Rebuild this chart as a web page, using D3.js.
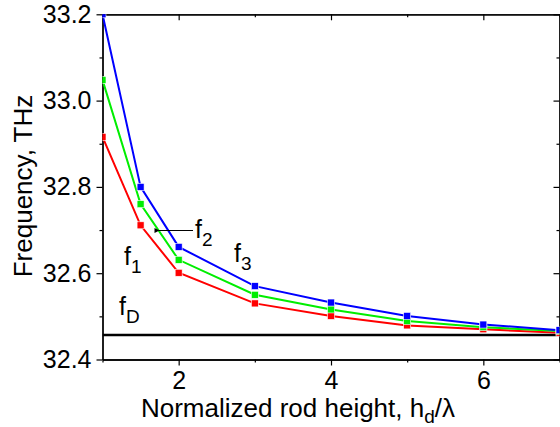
<!DOCTYPE html>
<html>
<head>
<meta charset="utf-8">
<script src="https://cdn.jsdelivr.net/npm/d3@7"></script>
<style>
  body { margin: 0; background: #fff; }
  svg { display: block; font-family: "Liberation Sans", Arial, sans-serif; }
</style>
</head>
<body>
<svg width="560" height="427"></svg>
<script>
// hauteur normalisee h_d / lambda
const hauteurs = [1, 1.5, 2, 3, 4, 5, 6, 7];
const f1 = [32.916, 32.711, 32.601, 32.530, 32.501, 32.479, 32.470, 32.462];
const f2 = [33.048, 32.760, 32.631, 32.550, 32.516, 32.489, 32.475, 32.466];
const f3 = [33.200, 32.800, 32.661, 32.570, 32.532, 32.501, 32.481, 32.468];
const fD = 32.457;

const ticksX = [2, 4, 6];
const ticksXmin = [1, 3, 5, 7];
const ticksY = [32.4, 32.6, 32.8, 33.0, 33.2];
const ticksYmin = [32.5, 32.7, 32.9, 33.1];

const series = [
  { nom: "f1", valeurs: f1, couleur: "#ff0000" },
  { nom: "f2", valeurs: f2, couleur: "#00ee00" },
  { nom: "f3", valeurs: f3, couleur: "#0000ff" }
];

const gauche = 102.5, droite = 559.5, haut = 14.3, bas = 359.5;

const x = d3.scaleLinear().domain([1, 7]).range([gauche, droite]);
const y = d3.scaleLinear().domain([32.4, 33.2]).range([bas, haut]);

const svg = d3.select("svg");

svg.append("defs").append("clipPath").attr("id", "zone")
  .append("rect")
  .attr("x", gauche).attr("y", haut)
  .attr("width", droite - gauche).attr("height", bas - haut);

svg.append("defs").append("marker")
  .attr("id", "fleche")
  .attr("viewBox", "0 0 10 10")
  .attr("refX", 1).attr("refY", 5)
  .attr("markerWidth", 9).attr("markerHeight", 5)
  .attr("markerUnits", "userSpaceOnUse")
  .attr("orient", "auto-start-reverse")
  .append("path").attr("d", "M0,5 L10,0 L10,10 Z").attr("fill", "#000");

const fmtY = d3.format(".1f");
const fmtX = d3.format("d");

// axes
function axe(g, generateur) {
  g.call(generateur);
  g.select(".domain").attr("stroke-width", 1.3);
  g.selectAll(".tick line").attr("stroke-width", 1.2);
  g.selectAll("text").style("font-size", "25px").attr("fill", "#000");
}

svg.append("g").attr("transform", `translate(0,${bas})`)
  .call(g => axe(g, d3.axisBottom(x).tickValues(ticksX).tickSize(6).tickSizeOuter(0).tickPadding(6).tickFormat(fmtX)));
svg.append("g").attr("transform", `translate(0,${bas})`)
  .call(g => axe(g, d3.axisBottom(x).tickValues(ticksXmin).tickSize(3).tickSizeOuter(0).tickFormat("")));

svg.append("g").attr("transform", `translate(${gauche},0)`)
  .call(g => axe(g, d3.axisLeft(y).tickValues(ticksY).tickSize(6).tickSizeOuter(0).tickPadding(5).tickFormat(fmtY)));
svg.append("g").attr("transform", `translate(${gauche},0)`)
  .call(g => axe(g, d3.axisLeft(y).tickValues(ticksYmin).tickSize(3).tickSizeOuter(0).tickFormat("")));

// cadre haut et droite, graduations vers l'interieur
svg.append("g").attr("transform", `translate(0,${haut})`)
  .call(g => axe(g, d3.axisTop(x).tickValues(ticksX).tickSize(-6).tickSizeOuter(0).tickFormat("")));
svg.append("g").attr("transform", `translate(0,${haut})`)
  .call(g => axe(g, d3.axisTop(x).tickValues(ticksXmin).tickSize(-3).tickSizeOuter(0).tickFormat("")));
svg.append("g").attr("transform", `translate(${droite},0)`)
  .call(g => axe(g, d3.axisRight(y).tickValues(ticksY).tickSize(-6).tickSizeOuter(0).tickFormat("")));
svg.append("g").attr("transform", `translate(${droite},0)`)
  .call(g => axe(g, d3.axisRight(y).tickValues(ticksYmin).tickSize(-3).tickSizeOuter(0).tickFormat("")));

// titres des axes
svg.append("text")
  .attr("transform", "translate(32,186) rotate(-90)")
  .attr("text-anchor", "middle")
  .style("font-size", "26px")
  .text("Frequency, THz");

const titreX = svg.append("text")
  .attr("x", 298).attr("y", 417)
  .attr("text-anchor", "middle")
  .style("font-size", "26px");
titreX.append("tspan").text("Normalized rod height, h");
titreX.append("tspan").attr("dy", 6).style("font-size", "19px").text("d");
titreX.append("tspan").attr("dy", -6).text("/\u03bb");

// donnees
const zone = svg.append("g").attr("clip-path", "url(#zone)");

zone.append("line")
  .attr("x1", gauche).attr("x2", droite)
  .attr("y1", y(fD)).attr("y2", y(fD))
  .attr("stroke", "#000").attr("stroke-width", 2.5);

const ligne = d3.line().x((d, i) => x(hauteurs[i])).y(d => y(d));

zone.selectAll(".courbe")
  .data(series)
  .join("path")
  .attr("class", "courbe")
  .attr("d", d => ligne(d.valeurs))
  .attr("fill", "none")
  .attr("stroke", d => d.couleur)
  .attr("stroke-width", 2);

zone.selectAll(".points")
  .data(series)
  .join("g")
  .attr("class", "points")
  .selectAll("rect")
  .data(d => d.valeurs.map((v, i) => ({ h: hauteurs[i], v: v, c: d.couleur })))
  .join("rect")
  .attr("x", d => x(d.h) - 3.5)
  .attr("y", d => y(d.v) - 3.5)
  .attr("width", 7).attr("height", 7)
  .attr("fill", d => d.c)
  .attr("stroke", "#fff").attr("stroke-width", 0.6);

// etiquettes
function etiquette(px, py, principal, indice) {
  const t = svg.append("text").attr("x", px).attr("y", py).style("font-size", "25px");
  t.append("tspan").text(principal);
  t.append("tspan").attr("dy", 7.5).style("font-size", "19px").text(indice);
}
etiquette(124, 265, "f", "1");
etiquette(195, 238, "f", "2");
etiquette(234, 262, "f", "3");
etiquette(119, 315, "f", "D");

svg.append("line")
  .attr("x1", 193).attr("y1", 230.5)
  .attr("x2", 159).attr("y2", 230.5)
  .attr("stroke", "#000").attr("stroke-width", 1.2)
  .attr("marker-end", "url(#fleche)");
</script>
</body>
</html>
